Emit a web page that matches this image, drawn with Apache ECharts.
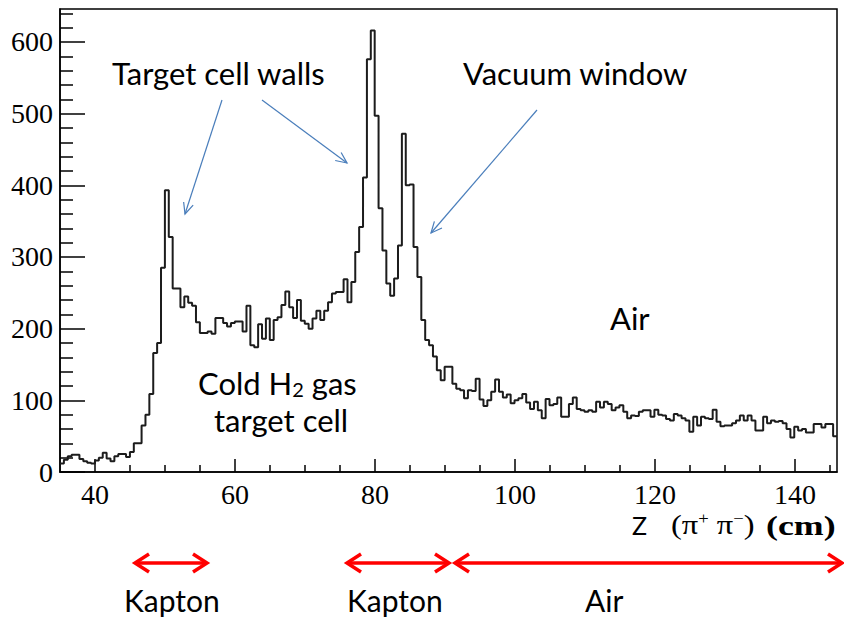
<!DOCTYPE html>
<html>
<head>
<meta charset="utf-8">
<script src="https://cdn.jsdelivr.net/npm/echarts@6/dist/echarts.min.js"></script>
<style>
  html, body { margin: 0; padding: 0; background: #fff; }
  #chart { width: 844px; height: 619px; }
</style>
</head>
<body>
<div id="chart"></div>
<script>
// Z vertex distribution of pi+ pi- pairs, 200 bins between 35 and 146 cm
const zRange = [35, 146];
const counts = [
  12, 17, 22, 24, 24, 18, 15, 13, 12, 16, 20, 27, 19, 15, 22, 25, 25, 21, 28, 40,
  40, 65, 80, 109, 166, 180, 285, 393, 328, 256, 256, 230, 245, 236, 232, 209, 194, 194, 196, 193,
  215, 215, 208, 203, 208, 210, 210, 196, 232, 177, 174, 206, 186, 214, 184, 212, 216, 233, 252, 230,
  215, 240, 211, 207, 200, 214, 225, 212, 225, 237, 249, 251, 251, 269, 237, 265, 307, 342, 411, 576,
  616, 497, 368, 309, 263, 246, 270, 316, 472, 400, 401, 314, 272, 212, 184, 177, 161, 142, 128, 147,
  147, 123, 116, 114, 103, 114, 113, 130, 101, 92, 100, 112, 129, 112, 104, 108, 96, 100, 103, 109,
  97, 88, 98, 86, 75, 102, 93, 95, 104, 77, 77, 95, 104, 88, 86, 84, 86, 84, 98, 90,
  98, 95, 86, 90, 93, 84, 75, 79, 78, 84, 86, 86, 77, 87, 80, 79, 74, 72, 81, 79,
  75, 72, 56, 77, 65, 77, 75, 74, 87, 70, 64, 65, 65, 68, 72, 79, 72, 79, 72, 58,
  58, 77, 68, 72, 70, 71, 68, 60, 48, 63, 58, 60, 55, 55, 67, 67, 62, 67, 67, 50
];
const countMax = 646;
const xTickValues = [40, 60, 80, 100, 120, 140];
const xMinorTickValues = [45, 50, 55, 65, 70, 75, 85, 90, 95, 105, 110, 115, 125, 130, 135, 145];
const yTickValues = [0, 100, 200, 300, 400, 500, 600];
const yMinorTickValues = [20, 40, 60, 80, 120, 140, 160, 180, 220, 240, 260, 280, 320, 340, 360, 380,
  420, 440, 460, 480, 520, 540, 560, 580, 620, 640];

// Material labels under the axis
const regionLabels = ['Kapton', 'Kapton', 'Air'];

const binWidth = (zRange[1] - zRange[0]) / counts.length;
const stepData = counts.map((c, i) => [zRange[0] + i * binWidth, c]);
stepData.push([zRange[1], counts[counts.length - 1]]);

const serif = '"Liberation Serif", "Times New Roman", serif';
const sans = 'Lato, "Open Sans", sans-serif';
const blue = '#4a7ebb';
const red = '#ff0000';
const noteSize = 31;

function arrowHead(x1, y1, x2, y2, len, half) {
  const dx = x2 - x1, dy = y2 - y1;
  const d = Math.hypot(dx, dy);
  const ux = dx / d, uy = dy / d;
  const bx = x2 - ux * len, by = y2 - uy * len;
  return [[bx - uy * half, by + ux * half], [x2, y2], [bx + uy * half, by - ux * half]];
}

function arrow(x1, y1, x2, y2, color, width, len, half, both) {
  const els = [{
    type: 'line', silent: true,
    shape: { x1, y1, x2, y2 },
    style: { stroke: color, lineWidth: width }
  }, {
    type: 'polyline', silent: true,
    shape: { points: arrowHead(x1, y1, x2, y2, len, half) },
    style: { stroke: color, lineWidth: width, fill: null }
  }];
  if (both) {
    els.push({
      type: 'polyline', silent: true,
      shape: { points: arrowHead(x2, y2, x1, y1, len, half) },
      style: { stroke: color, lineWidth: width, fill: null }
    });
  }
  return els;
}

function label(text, x, y, size, extra, props) {
  return Object.assign({
    type: 'text', silent: true, x, y,
    style: Object.assign({
      text, fill: '#000', fontFamily: sans, fontSize: size, lineHeight: size,
      textAlign: 'left', textVerticalAlign: 'middle'
    }, extra || {})
  }, props || {});
}

const graphics = [
  label('Target cell walls', 112, 73, noteSize),
  label('Vacuum window', 463, 73, noteSize),
  label('Air', 610, 318, noteSize),
  label('{a|Cold H}{b|2}{a| gas}', 198, 383, noteSize, {
    rich: {
      a: { fontFamily: sans, fontSize: noteSize, fill: '#000' },
      b: { fontFamily: sans, fontSize: 20, fill: '#000', verticalAlign: 'bottom', padding: [13, 0, 0, 0] }
    }
  }),
  label('target cell', 214, 420, noteSize),
  label('Z', 632, 525, 25),
  label('{p|(\u03c0}{s|+}{p| \u03c0}{s|\u2212}{p|)}', 671, 525, 28, {
    rich: {
      p: { fontFamily: serif, fontSize: 28, fill: '#000' },
      s: { fontFamily: serif, fontSize: 16, fill: '#000', verticalAlign: 'top' }
    }
  }, { scaleX: 1.16 }),
  label('(cm)', 766, 525, 28, { fontFamily: serif, fontWeight: 'bold' }, { scaleX: 1.28 }),
  label(regionLabels[0], 124, 600, 30),
  label(regionLabels[1], 347, 600, 30),
  label(regionLabels[2], 585, 600, 30)
].concat(
  arrow(222, 100, 185, 214, blue, 1.2, 11, 5, false),
  arrow(262, 100, 347, 163, blue, 1.2, 11, 5, false),
  arrow(537, 110, 431, 233, blue, 1.2, 11, 5, false),
  arrow(135, 563, 207, 563, red, 3.5, 14, 9, true),
  arrow(347, 563, 449, 563, red, 3.5, 14, 9, true),
  arrow(455, 563, 842, 563, red, 3.5, 14, 9, true)
);

const gridBox = { left: 60, right: 7, top: 9, bottom: 147 };

const chart = echarts.init(document.getElementById('chart'), null, { renderer: 'svg' });
chart.setOption({
  animation: false,
  backgroundColor: '#fff',
  grid: [
    Object.assign({ show: true, borderColor: '#000', borderWidth: 1.5, backgroundColor: 'transparent' }, gridBox),
    Object.assign({ show: false }, gridBox)
  ],
  xAxis: [{
    type: 'value', gridIndex: 0, min: zRange[0], max: zRange[1], position: 'bottom',
    axisLine: { show: true, onZero: false, lineStyle: { color: '#000', width: 1.5 } },
    axisTick: { show: true, inside: true, length: 13, customValues: xTickValues, lineStyle: { color: '#000', width: 1.5 } },
    axisLabel: { show: true, customValues: xTickValues, fontFamily: serif, fontSize: 28, lineHeight: 28, color: '#000', margin: 8 },
    splitLine: { show: false }
  }, {
    type: 'value', gridIndex: 1, min: zRange[0], max: zRange[1], position: 'bottom',
    axisLine: { show: false },
    axisTick: { show: true, inside: true, length: 7, customValues: xMinorTickValues, lineStyle: { color: '#000', width: 1.5 } },
    axisLabel: { show: false },
    splitLine: { show: false }
  }],
  yAxis: [{
    type: 'value', gridIndex: 0, min: 0, max: countMax, position: 'left',
    axisLine: { show: true, onZero: false, lineStyle: { color: '#000', width: 1.5 } },
    axisTick: { show: true, inside: true, length: 25, customValues: yTickValues, lineStyle: { color: '#000', width: 1.5 } },
    axisLabel: { show: true, customValues: yTickValues, fontFamily: serif, fontSize: 28, color: '#000', margin: 7 },
    splitLine: { show: false }
  }, {
    type: 'value', gridIndex: 1, min: 0, max: countMax, position: 'left',
    axisLine: { show: false },
    axisTick: { show: true, inside: true, length: 13, customValues: yMinorTickValues, lineStyle: { color: '#000', width: 1.5 } },
    axisLabel: { show: false },
    splitLine: { show: false }
  }],
  series: [{
    type: 'line', xAxisIndex: 0, yAxisIndex: 0,
    data: stepData, step: 'end', symbol: 'none',
    lineStyle: { color: '#1c1c1c', width: 2 }
  }],
  graphic: graphics
});
</script>
</body>
</html>
